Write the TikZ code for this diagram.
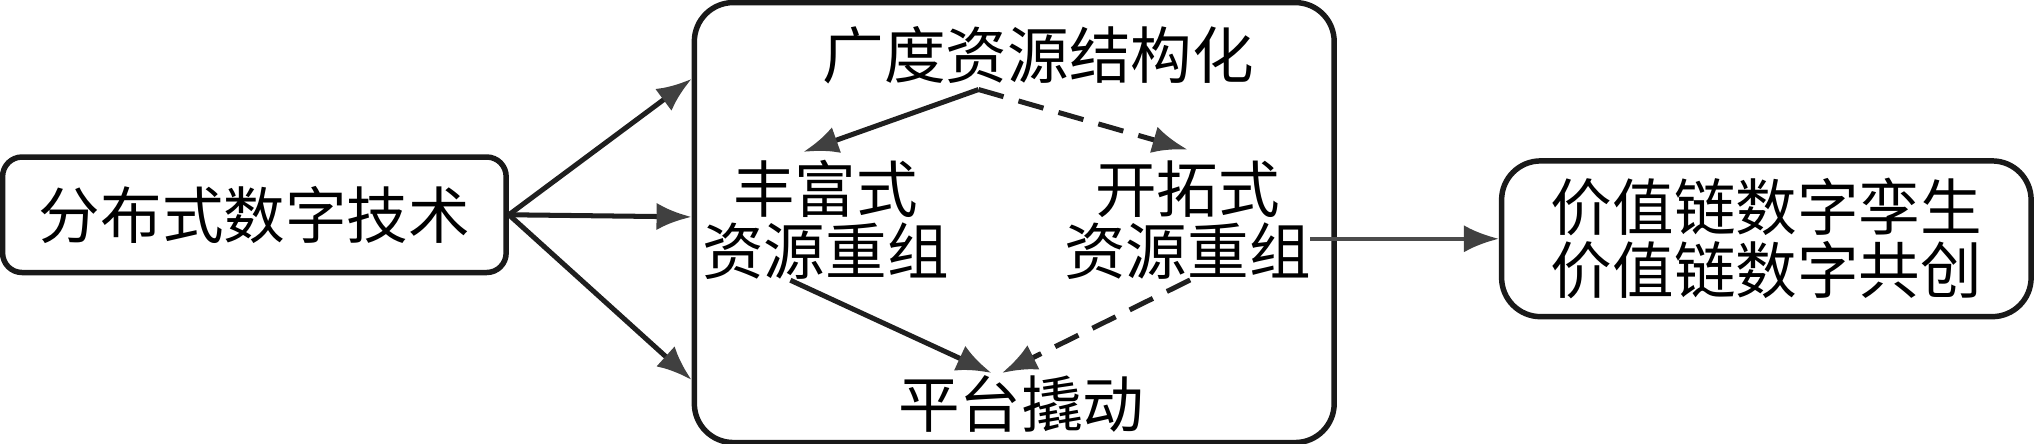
\documentclass[tikz,border=0pt]{standalone}
\usepackage{fontspec}
\newfontfamily\cjk{Noto Sans CJK SC}
\usepackage{xcolor}
\usetikzlibrary{positioning, shapes.geometric}
\usetikzlibrary{calc, arrows.meta}
\tikzstyle{startstop} = [rectangle, rounded corners=0.15cm, minimum width=3.88cm, minimum height=0.89cm, text centered, draw=black!90, line width=1.2pt]
\tikzstyle{frame} = [rectangle, rounded corners=0.3cm, minimum width=4.93cm, minimum height=3.39cm, draw=black!90, line width=1.2pt]
\tikzstyle{process} = [rectangle, inner sep=0.08cm, align=center, font=\cjk\fontsize{13.5}{12.2}\selectfont]
\tikzstyle{arrow} = [line width=1.1pt, draw=black!88, -{Latex[length=0.27cm,width=0.21cm,color=black!75]}]
\tikzstyle{dasharrow} = [arrow, dash pattern=on 0.2cm off 0.12cm]
\tikzstyle{every node}=[font=\cjk\fontsize{13.5}{13.8}\selectfont]

\begin{document}
\begin{tikzpicture}[node distance=2cm,]
		\useasboundingbox (0,0) rectangle (15.68,-3.42);
		\node (tech) [startstop] at (1.96,-1.655) {分布式数字技术};
		\node (mid) [frame, right of=tech, xshift=3.855cm, yshift=-0.06cm] {};
		\node (vc) [startstop, right of=mid, xshift=3.795cm, yshift=-0.125cm, minimum width=4.08cm, minimum height=1.2cm, rounded corners=0.3cm, align=center] {价值链数字孪生\\价值链数字共创};
		\node (struct) [process, above of=mid, xshift=0.185cm, yshift=-0.71cm] {广度资源结构化};
		\node (rich) [process, left of=mid, xshift=0.545cm, yshift=0.02cm] {丰富式\\资源重组};
		\node (expl) [process, right of=mid, xshift=-0.665cm, yshift=0.02cm] {开拓式\\资源重组};
		\node (plat) [process, below of=mid, xshift=0.055cm, yshift=0.605cm] {平台撬动};
		\coordinate (split) at (7.54,-0.69);
		\draw [arrow](tech.east) -- (mid.156.4);
		\draw [arrow](tech.east) -- (mid.179.2);
		\draw [arrow](tech.east) -- (mid.206.2);
		\draw [arrow](split) -- ($(rich.north)+(-0.17,-0.02)$);
		\draw [dasharrow](split) -- (expl.north);
		\draw [arrow]($(rich.south)+(-0.27,0.08)$) -- ($(plat.north)+(-0.23,-0.07)$);
		\draw [dasharrow]($(expl.south)+(0.02,0.08)$) -- ($(plat.north)+(-0.15,-0.07)$);
		\draw [arrow, line width=0.9pt, draw=black!70]($(expl.east |- vc.west)+(-0.09,0)$) -- (vc.west);
	\end{tikzpicture}
\end{document}
